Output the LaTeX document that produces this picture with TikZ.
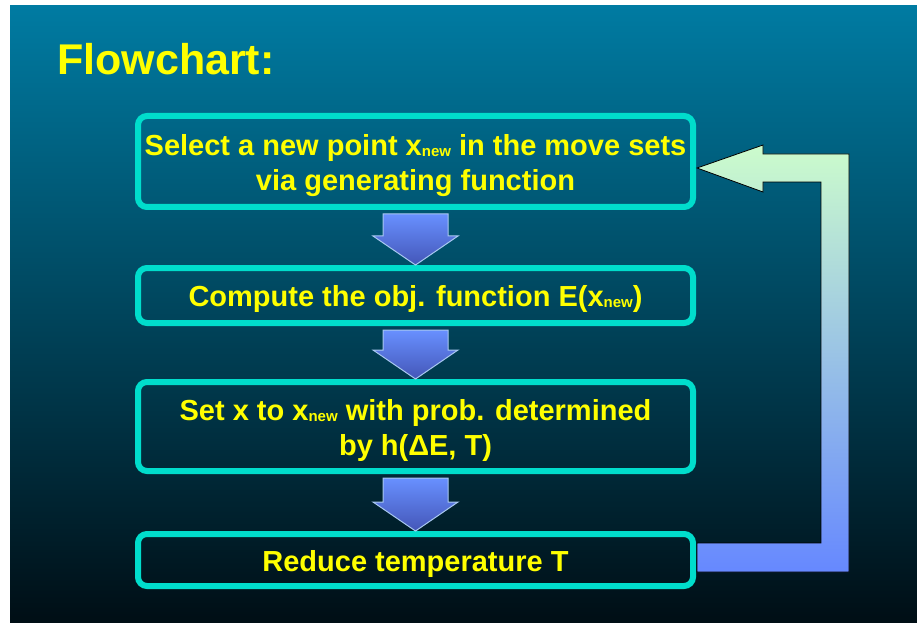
\documentclass[tikz,border=0pt]{standalone}
\usepackage{fontspec}
\setmainfont{Liberation Sans}
\usetikzlibrary{calc}
\definecolor{bgtop}{HTML}{007BA2}
\definecolor{bgmid}{HTML}{005068}
\definecolor{bgbot}{HTML}{000E15}
\definecolor{boxedge}{HTML}{00DDCC}
\definecolor{txt}{HTML}{FFFF00}
\definecolor{arrtop}{HTML}{6890FF}
\definecolor{arrbot}{HTML}{4456B8}
\definecolor{arredge}{HTML}{A8C8F0}
\definecolor{rettop}{HTML}{CCFCCC}
\definecolor{retbot}{HTML}{6688FF}
\newcommand\xnew{x\raisebox{-1pt}{\fontsize{15}{15}\selectfont new}}
\newcommand\fatarrow[2]{\shade[fat] let \p1=(#1.south), \p2=(#2.north) in
  (\x1-32.5pt,\y1-4pt) -- (\x1+32.5pt,\y1-4pt) -- (\x1+32.5pt,\y2+29pt) --
  (\x1+42.5pt,\y2+29pt) -- (\x1,\y2) -- (\x1-42.5pt,\y2+29pt) --
  (\x1-32.5pt,\y2+29pt) -- cycle;}
\begin{document}
\begin{tikzpicture}[x=1pt,y=1pt,
  stepbox/.style={draw=boxedge, line width=6pt, rounded corners=9pt,
    minimum width=555pt, inner sep=0pt},
  steptext/.style={inner sep=0pt, align=center, text=txt,
    font=\bfseries\fontsize{29}{35}\selectfont},
  fat/.style={top color=arrtop, bottom color=arrbot, draw=arredge, line width=1pt},
  ret/.style={top color=rettop, bottom color=retbot, draw=black, line width=0.8pt}]
\useasboundingbox (0,0) rectangle (917,622);
\fill[white] (0,0) rectangle (917,622);
\shade[top color=bgtop, middle color=bgmid, bottom color=bgbot] (10,0) rectangle (917,616);

\node[anchor=base west, inner sep=0pt, text=txt, font=\bfseries\fontsize{43}{43}\selectfont] (title) at (57,547) {Flowchart:};

\node[stepbox, minimum height=91pt] (b1) at (415.5,460.5) {};
\node[stepbox, minimum height=55pt] (b2) at (415.5,326.5) {};
\node[stepbox, minimum height=89pt] (b3) at (415.5,195.5) {};
\node[stepbox, minimum height=52pt] (b4) at (415.5,62) {};

\node[steptext] (t1) at ([yshift=-4pt]b1.center) {Select a new point \xnew{} in the move sets\\via generating function};
\node[steptext] (t2) at ([yshift=-4pt]b2.center) {Compute the obj. function E(\xnew)};
\node[steptext] (t3) at ([yshift=-4pt]b3.center) {Set x to \xnew{} with prob. determined\\by h(ΔE, T)};
\node[steptext] (t4) at ([yshift=-4pt]b4.center) {Reduce temperature T};

\fatarrow{b1}{b2}
\fatarrow{b2}{b3}
\fatarrow{b3}{b4}

\shade[ret] let \p1=(b4.east), \p2=(b1.east) in
  (697,\y1-12pt) -- (849,\y1-12pt) -- (849,\y2+7.5pt) -- (763,\y2+7.5pt) --
  (763,\y2+16.5pt) -- (697,\y2-6.5pt) -- (763,\y2-30.5pt) -- (763,\y2-20.5pt) --
  (821,\y2-20.5pt) -- (821,\y1+17pt) -- (697,\y1+17pt) -- cycle;
\end{tikzpicture}
\end{document}
